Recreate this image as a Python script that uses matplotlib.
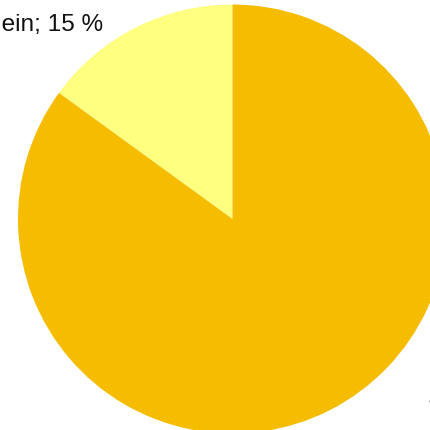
import matplotlib.pyplot as plt

labels = ['Nein', 'Ja']
shares = [15, 85]
colors = ['#FFFF80', '#F6BC00']

plt.rcParams['font.family'] = ['Liberation Sans', 'DejaVu Sans']

W = H = 431
fig = plt.figure(figsize=(W / 100, H / 100), dpi=100)
ax = fig.add_axes([0, 0, 1, 1])

# pie of radius 1 centred at origin; axes limits place it on the canvas
cx, cy, r = 232.5, 220, 214.5
ax.pie(shares, colors=colors, startangle=90, counterclock=True,
       radius=1, center=(0, 0), wedgeprops={'linewidth': 0})
ax.set_xlim(-cx / r, (W - cx) / r)
ax.set_ylim(-(H - cy) / r, cy / r)
ax.set_aspect('equal')
ax.axis('off')

def px(x, y):
    return (x - cx) / r, (cy - y) / r

tx, ty = px(103, 31)
ax.text(tx, ty, '%s; %d %%' % (labels[0], shares[0]), ha='right', va='baseline',
        fontsize=17.6, color='#111111')
tx, ty = px(429, 405)
ax.text(tx, ty, '%s; %d %%' % (labels[1], shares[1]), ha='left', va='baseline',
        fontsize=17.6, color='#111111')

fig.savefig('out.png', dpi=100)
